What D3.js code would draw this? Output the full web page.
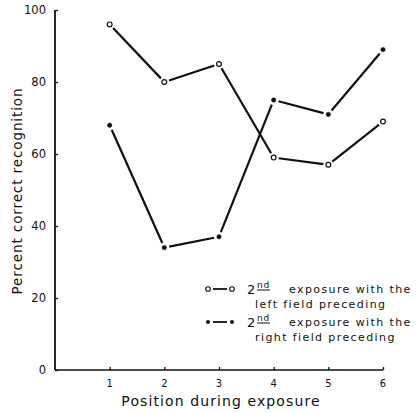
<!DOCTYPE html>
<html>
<head>
<meta charset="utf-8">
<script src="https://cdn.jsdelivr.net/npm/d3@7"></script>
<style>
  body { margin: 0; background: #fff; }
  text { font-family: "DejaVu Sans", sans-serif; fill: #111; }
</style>
</head>
<body>
<div id="chart"></div>
<script>
// ── Datos ───────────────────────────────────────────────────────────────
const posiciones = [1, 2, 3, 4, 5, 6];
const campoIzquierdo = [96, 80, 85, 59, 57, 69];
const campoDerecho = [68, 34, 37, 75, 71, 89];
const ticksY = [0, 20, 40, 60, 80, 100];

// ── Lienzo ──────────────────────────────────────────────────────────────
const width = 417;
const height = 413;

const svg = d3.select("#chart")
  .append("svg")
  .attr("width", width)
  .attr("height", height);

const x = d3.scaleLinear().domain([0, 6]).range([55, 383]);
const y = d3.scaleLinear().domain([0, 100]).range([370, 10]);

// ── Ejes ────────────────────────────────────────────────────────────────
const ejeY = svg.append("g")
  .attr("transform", `translate(${x(0)},0)`)
  .call(d3.axisRight(y).tickValues(ticksY).tickSize(3).tickFormat(""));
ejeY.select(".domain").remove();
ejeY.selectAll("line").attr("stroke", "#111").attr("stroke-width", 1.3);

svg.append("line")
  .attr("x1", x(0)).attr("x2", x(0))
  .attr("y1", y(100)).attr("y2", y(0))
  .attr("stroke", "#111").attr("stroke-width", 1.8);

svg.append("line")
  .attr("x1", x(0)).attr("x2", x(6))
  .attr("y1", y(0)).attr("y2", y(0))
  .attr("stroke", "#111").attr("stroke-width", 1.5);

svg.append("g")
  .attr("transform", `translate(0,${y(0)})`)
  .call(d3.axisTop(x).tickValues(posiciones).tickSize(3).tickFormat(""))
  .call(g => g.select(".domain").remove())
  .selectAll("line").attr("stroke", "#111").attr("stroke-width", 1.3);

svg.append("g").selectAll("text")
  .data(ticksY)
  .join("text")
  .attr("x", 46)
  .attr("y", d => y(d) + 4)
  .attr("text-anchor", "end")
  .attr("font-size", 11.5)
  .text(d => d);

svg.append("g").selectAll("text")
  .data(posiciones)
  .join("text")
  .attr("x", d => x(d))
  .attr("y", 387)
  .attr("text-anchor", "middle")
  .attr("font-size", 10)
  .text(d => d);

svg.append("text")
  .attr("x", 221)
  .attr("y", 406)
  .attr("text-anchor", "middle")
  .attr("font-size", 14)
  .attr("letter-spacing", 1.1)
  .text("Position during exposure");

svg.append("text")
  .attr("transform", `translate(22,191) rotate(-90)`)
  .attr("text-anchor", "middle")
  .attr("font-size", 13.5)
  .attr("letter-spacing", 0.9)
  .text("Percent correct recognition");

// ── Series ──────────────────────────────────────────────────────────────
// segmentos recortados para dejar hueco alrededor de cada marcador
function dibujarSerie(valores, abierto) {
  const pts = valores.map((v, i) => [x(posiciones[i]), y(v)]);
  const g = svg.append("g");
  const gap = 5;
  d3.pairs(pts).forEach(([a, b]) => {
    const dx = b[0] - a[0], dy = b[1] - a[1];
    const len = Math.hypot(dx, dy);
    const ux = dx / len, uy = dy / len;
    g.append("line")
      .attr("x1", a[0] + ux * gap).attr("y1", a[1] + uy * gap)
      .attr("x2", b[0] - ux * gap).attr("y2", b[1] - uy * gap)
      .attr("stroke", "#111").attr("stroke-width", 2.2);
  });
  g.selectAll("circle")
    .data(pts)
    .join("circle")
    .attr("cx", d => d[0])
    .attr("cy", d => d[1])
    .attr("r", abierto ? 2.4 : 2.2)
    .attr("fill", abierto ? "#fff" : "#111")
    .attr("stroke", "#111")
    .attr("stroke-width", abierto ? 1.2 : 0.5);
}

dibujarSerie(campoIzquierdo, true);
dibujarSerie(campoDerecho, false);

// ── Leyenda ─────────────────────────────────────────────────────────────
const leyenda = [
  { abierto: true, y: 289, lineas: ["exposure with the", "left field preceding"] },
  { abierto: false, y: 322, lineas: ["exposure with the", "right field preceding"] },
];

leyenda.forEach(d => {
  const g = svg.append("g");
  g.append("line")
    .attr("x1", 213).attr("x2", 227)
    .attr("y1", d.y).attr("y2", d.y)
    .attr("stroke", "#111").attr("stroke-width", 1.8);
  [208, 232].forEach(cx => {
    g.append("circle")
      .attr("cx", cx).attr("cy", d.y)
      .attr("r", d.abierto ? 2.3 : 1.8)
      .attr("fill", d.abierto ? "#fff" : "#111")
      .attr("stroke", "#111")
      .attr("stroke-width", d.abierto ? 1.1 : 0.5);
  });
  g.append("text")
    .attr("x", 247).attr("y", d.y + 5)
    .attr("font-size", 13)
    .text("2");
  g.append("text")
    .attr("x", 257).attr("y", d.y - 1)
    .attr("font-size", 9)
    .attr("letter-spacing", 0.8)
    .text("nd");
  g.append("line")
    .attr("x1", 257).attr("x2", 270)
    .attr("y1", d.y + 1).attr("y2", d.y + 1)
    .attr("stroke", "#111").attr("stroke-width", 1);
  g.append("text")
    .attr("x", 289).attr("y", d.y + 4)
    .attr("font-size", 11)
    .attr("letter-spacing", 1.4)
    .text(d.lineas[0]);
  g.append("text")
    .attr("x", 255).attr("y", d.y + 19)
    .attr("font-size", 11)
    .attr("letter-spacing", 1.4)
    .text(d.lineas[1]);
});
</script>
</body>
</html>
